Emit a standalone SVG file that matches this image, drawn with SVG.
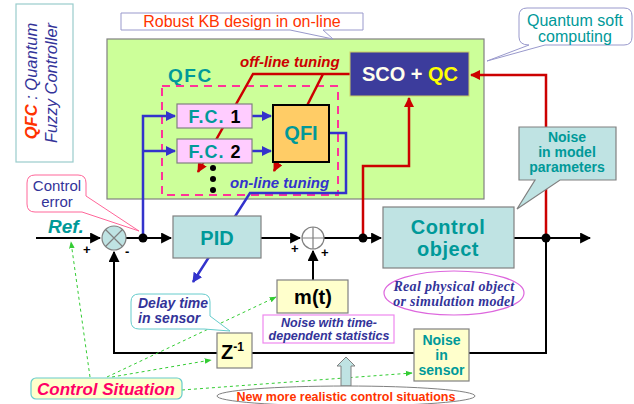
<svg xmlns="http://www.w3.org/2000/svg" width="634" height="404" viewBox="0 0 634 404">
<defs>
<style>
.s{font-family:"Liberation Sans",Arial,sans-serif}
.b{font-weight:bold}
.i{font-style:italic}
.teal{fill:#009999}
.blk{stroke:#000;stroke-width:2;fill:none}
.blu{stroke:#3333cc;stroke-width:2.5;fill:none}
.red{stroke:#cc0000;stroke-width:2.5;fill:none}
.grn{stroke:#33cc33;stroke-width:1;stroke-dasharray:3,3;fill:none}
.box{stroke:#808080;stroke-width:1.2}
</style>
<marker id="ab" viewBox="0 0 10 10" refX="9" refY="5" markerWidth="5.5" markerHeight="5.5" orient="auto" markerUnits="strokeWidth"><path d="M0,0 L10,5 L0,10 Z" fill="#000"/></marker>
<marker id="au" viewBox="0 0 10 10" refX="9" refY="5" markerWidth="4" markerHeight="4" orient="auto" markerUnits="strokeWidth"><path d="M0,0 L10,5 L0,10 Z" fill="#3333cc"/></marker>
<marker id="ar" viewBox="0 0 10 10" refX="9" refY="5" markerWidth="4" markerHeight="4" orient="auto" markerUnits="strokeWidth"><path d="M0,0 L10,5 L0,10 Z" fill="#cc0000"/></marker>
<marker id="ag" viewBox="0 0 10 10" refX="9" refY="5" markerWidth="7" markerHeight="7" orient="auto" markerUnits="strokeWidth"><path d="M0,1 L10,5 L0,9 Z" fill="#33cc33"/></marker>
</defs>
<rect width="634" height="404" fill="#fff"/>

<g id="legend">
<rect x="16" y="4" width="57" height="158" fill="#fff" stroke="#99cccc" stroke-width="1.2"/>
<text class="s i" font-size="16.5" transform="translate(37,81) rotate(-90)" text-anchor="middle"><tspan fill="#ff3300" font-weight="bold">QFC</tspan><tspan fill="#333399"> : Quantum</tspan></text>
<text class="s i" font-size="16.5" fill="#333399" transform="translate(57,83) rotate(-90)" text-anchor="middle">Fuzzy Controller</text>
</g>

<g id="kb-area">
<rect x="107" y="39" width="377" height="160" fill="#ccff99" stroke="#808080" stroke-width="1.2"/>
</g>

<g id="robust-callout">
<path d="M121,13 H363 V30 H323 L333,39 L290,30 H121 Z" fill="#fff" stroke="#9999cc" stroke-width="1"/>
<text class="s" x="242" y="27" font-size="16" fill="#ff3300" text-anchor="middle">Robust KB design in on-line</text>
</g>

<g id="quantum-callout">
<path d="M527,8 H624 Q632,8 632,16 V37 Q632,45 624,45 H545 L487,61 L529,45 Q519,45 519,37 V16 Q519,8 527,8 Z" fill="#fff" stroke="#9999cc" stroke-width="1"/>
<text class="s teal" x="575" y="26" font-size="16" text-anchor="middle">Quantum soft</text>
<text class="s teal" x="575" y="42" font-size="16" text-anchor="middle">computing</text>
</g>

<g id="qfc-label">
<text class="s b teal" x="168" y="82" font-size="19" letter-spacing="1.5">QFC</text>
<rect x="162" y="86" width="176" height="109" fill="none" stroke="#ff3399" stroke-width="2" stroke-dasharray="8,6"/>
</g>

<g id="connectors">
<path class="red" d="M350,74 H253 L198,172" marker-end="url(#ar)"/>
<path class="red" d="M323,74 L274,171" marker-end="url(#ar)"/>
<path class="red" d="M363,238 V166 H409 V98" marker-end="url(#ar)"/>
<path class="red" d="M546,238 V75 H471" marker-end="url(#ar)"/>
<path class="blu" d="M143,238 V116 H175" marker-end="url(#au)"/>
<path class="blu" d="M143,151 H175" marker-end="url(#au)"/>
<path class="blu" d="M252,116 H271" marker-end="url(#au)"/>
<path class="blu" d="M252,151 H271" marker-end="url(#au)"/>
<path class="blu" d="M329,133 H346 V193 H250 L193,282" marker-end="url(#au)"/>
<path class="blk" d="M36,238 H100" marker-end="url(#ab)"/>
<path class="blk" d="M126,238 H171" marker-end="url(#ab)"/>
<path class="blk" d="M261,238 H300" marker-end="url(#ab)"/>
<path class="blk" d="M324,238 H381" marker-end="url(#ab)"/>
<path class="blk" d="M514,238 H590" marker-end="url(#ab)"/>
<path class="blk" stroke-width="2.5" d="M546,238 V353 H114 V252" marker-end="url(#ab)"/>
<path class="blk" d="M313,280 V251" marker-end="url(#ab)"/>
<circle cx="143" cy="238" r="4.5" fill="#000"/>
<circle cx="363" cy="238" r="4.5" fill="#000"/>
<circle cx="546" cy="238" r="4.5" fill="#000"/>
<path class="grn" d="M90,377 L71,242" marker-end="url(#ag)"/>
<path class="grn" d="M107,377 L276,297" marker-end="url(#ag)"/>
<path class="grn" d="M112,377 L211,360" marker-end="url(#ag)"/>
<path class="grn" d="M182,390 L412,373" marker-end="url(#ag)"/>
</g>

<g id="sco">
<rect x="350" y="52" width="119" height="44" fill="#3c3c9c" stroke="#cccc66" stroke-width="1"/>
<text class="s b" x="410" y="81" font-size="20" text-anchor="middle"><tspan fill="#ffffee">SCO + </tspan><tspan fill="#ffff00">QC</tspan></text>
</g>
<text class="s b i" x="240" y="67" font-size="15" fill="#cc0000">off-line tuning</text>

<g id="fc1">
<rect x="177" y="104" width="75" height="24" fill="#ffccff" class="box"/>
<text class="s b" x="215" y="123" font-size="18" text-anchor="middle" letter-spacing="1"><tspan class="teal">F.C. </tspan><tspan fill="#000">1</tspan></text>
</g>
<g id="fc2">
<rect x="177" y="139" width="75" height="24" fill="#ffccff" class="box"/>
<text class="s b" x="215" y="158" font-size="18" text-anchor="middle" letter-spacing="1"><tspan class="teal">F.C. </tspan><tspan fill="#000">2</tspan></text>
</g>
<g id="dots">
<circle cx="213" cy="168" r="3" fill="#000"/>
<circle cx="213" cy="179" r="3" fill="#000"/>
<circle cx="213" cy="190" r="3" fill="#000"/>
</g>
<g id="qfi">
<rect x="273" y="105" width="56" height="57" fill="#ffcc66" stroke="#000" stroke-width="2"/>
<text class="s b teal" x="301" y="140" font-size="20" text-anchor="middle">QFI</text>
</g>
<text class="s b i" x="230" y="188" font-size="15" fill="#3333cc">on-line tuning</text>

<g id="sum1">
<circle cx="114" cy="238" r="12" fill="#bfe3e3" stroke="#808080" stroke-width="1.2"/>
<path d="M105.5,229.5 L122.5,246.5 M122.5,229.5 L105.5,246.5" stroke="#808080" stroke-width="1.2"/>
</g>
<text class="s b i teal" x="48" y="233" font-size="19">Ref.</text>
<text class="s b" x="83" y="254" font-size="13">+</text>
<text class="s b" x="125" y="256" font-size="13">-</text>

<g id="pid">
<rect x="173" y="216" width="88" height="42" fill="#bfe3e3" class="box"/>
<text class="s b teal" x="217" y="245" font-size="20" text-anchor="middle">PID</text>
</g>

<g id="sum2">
<circle cx="313" cy="238" r="11" fill="#fff" stroke="#808080" stroke-width="1.2"/>
<path d="M302,238 H324 M313,227 V249" stroke="#808080" stroke-width="1.2"/>
</g>
<text class="s b" x="291" y="253" font-size="13">+</text>
<text class="s b" x="321" y="257" font-size="13">+</text>

<g id="control-object">
<rect x="383" y="207" width="131" height="61" fill="#bfe3e3" class="box"/>
<text class="s b teal" x="448" y="234" font-size="20" text-anchor="middle" letter-spacing="0.5">Control</text>
<text class="s b teal" x="448" y="256" font-size="20" text-anchor="middle" letter-spacing="0.5">object</text>
</g>

<g id="real-object">
<ellipse cx="454" cy="293" rx="70" ry="22" fill="#fff" stroke="#dd66dd" stroke-width="1.2"/>
<text x="454" y="291" font-family="'Liberation Serif','Times New Roman',serif" font-weight="bold" font-style="italic" font-size="14" fill="#333399" text-anchor="middle" letter-spacing="0.3">Real physical object</text>
<text x="454" y="306" font-family="'Liberation Serif','Times New Roman',serif" font-weight="bold" font-style="italic" font-size="14" fill="#333399" text-anchor="middle" letter-spacing="0.3">or simulation model</text>
</g>

<g id="noise-model">
<path d="M519,127 H616 V180 H560 L517,209 L535,180 H519 Z" fill="#bfe3e3" stroke="#808080" stroke-width="1.2"/>
<text class="s b teal" x="567" y="142" font-size="14" text-anchor="middle">Noise</text>
<text class="s b teal" x="567" y="157" font-size="14" text-anchor="middle">in model</text>
<text class="s b teal" x="567" y="172" font-size="14" text-anchor="middle">parameters</text>
</g>

<g id="control-error">
<path d="M35,175 H78 Q86,175 86,183 V196 L139,231 L82,212 H35 Q27,212 27,204 V183 Q27,175 35,175 Z" fill="#fff" stroke="#ff6699" stroke-width="1"/>
<text class="s" x="57" y="191" font-size="15" fill="#333399" text-anchor="middle">Control</text>
<text class="s" x="57" y="207" font-size="15" fill="#333399" text-anchor="middle">error</text>
</g>

<g id="mt">
<rect x="277" y="280" width="71" height="33" fill="#ffffcc" class="box"/>
<text class="s b" x="313" y="304" font-size="20" text-anchor="middle" fill="#000">m(t)</text>
</g>
<g id="noise-time">
<rect x="263" y="315" width="131" height="28" fill="#fff" stroke="#ee88ee" stroke-width="1.2"/>
<text class="s b i" x="329" y="327" font-size="12.5" fill="#333399" text-anchor="middle">Noise with time-</text>
<text class="s b i" x="329" y="340" font-size="12.5" fill="#333399" text-anchor="middle">dependent statistics</text>
</g>

<g id="delay-callout">
<path d="M139,294 H202 Q210,294 210,302 V316 L230,331 L204,329 H139 Q131,329 131,321 V302 Q131,294 139,294 Z" fill="#fff" stroke="#66cccc" stroke-width="1"/>
<text class="s b i" x="138" y="308" font-size="14" fill="#333399">Delay time</text>
<text class="s b i" x="138" y="323" font-size="14" fill="#333399">in sensor</text>
</g>

<g id="z1">
<rect x="217" y="333" width="35" height="35" fill="#ffffcc" class="box"/>
<text class="s b" x="221" y="359" font-size="20" fill="#000">Z<tspan font-size="12" dy="-8">-1</tspan></text>
</g>

<g id="noise-sensor">
<rect x="414" y="329" width="55" height="52" fill="#ffffcc" class="box"/>
<text class="s b teal" x="441.5" y="345" font-size="14" text-anchor="middle">Noise</text>
<text class="s b teal" x="441.5" y="360" font-size="14" text-anchor="middle">in</text>
<text class="s b teal" x="441.5" y="375" font-size="14" text-anchor="middle">sensor</text>
</g>

<g id="control-situation">
<rect x="31" y="378" width="151" height="21" rx="5" fill="#ffffcc" stroke="#66cccc" stroke-width="1.2"/>
<text class="s b i" x="106" y="395" font-size="17" fill="#ff0066" text-anchor="middle">Control Situation</text>
</g>

<g id="new-situations">
<path d="M346,357 L355,366 H351 V386 H341 V366 H337 Z" fill="#bfe3e3" stroke="#808080" stroke-width="1"/>
<ellipse cx="346" cy="396" rx="129" ry="10" fill="#fff" stroke="#808080" stroke-width="1"/>
<text class="s b" x="346" y="401" font-size="12.5" fill="#ff3300" text-anchor="middle">New more realistic control situations</text>
</g>
</svg>
